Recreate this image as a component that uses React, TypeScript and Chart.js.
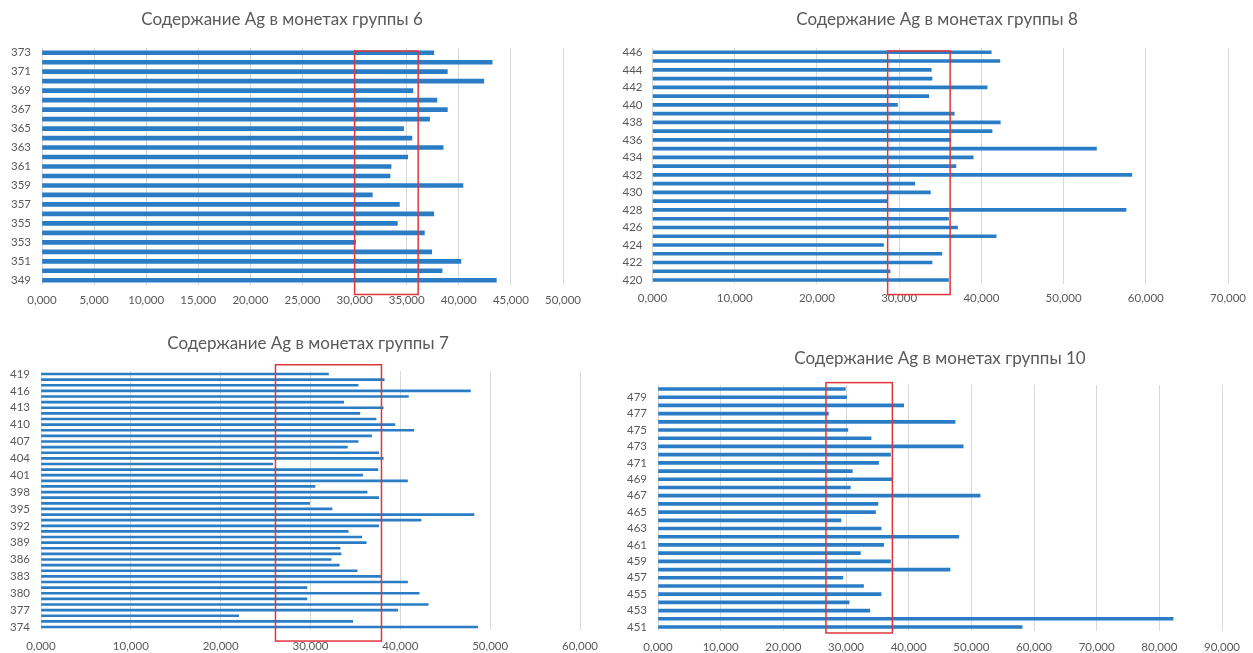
import React, { useEffect, useRef } from 'react';
import { Chart, registerables } from 'chart.js';

Chart.register(...registerables);

// ---------- DATA ----------
const group6Labels = ['349','350','351','352','353','354','355','356','357','358','359','360','361','362','363','364','365','366','367','368','369','370','371','372','373'];
const group6Values = [43.6, 38.4, 40.2, 37.4, 30.1, 36.7, 34.1, 37.6, 34.3, 31.7, 40.4, 33.4, 33.5, 35.1, 38.5, 35.5, 34.7, 37.2, 38.9, 37.9, 35.6, 42.4, 38.9, 43.2, 37.6];

const group8Labels = ['420','421','422','423','424','425','426','427','428','429','430','431','432','433','434','435','436','437','438','439','440','441','442','443','444','445','446'];
const group8Values = [36.0, 28.9, 34.0, 35.2, 28.1, 41.8, 37.1, 36.0, 57.6, 28.5, 33.8, 31.9, 58.3, 36.9, 39.0, 54.0, 36.3, 41.3, 42.3, 36.7, 29.8, 33.6, 40.7, 34.0, 33.9, 42.25, 41.2];

const group7Labels = ['374','375','376','377','378','379','380','381','382','383','384','385','386','387','388','389','390','391','392','393','394','395','396','397','398','399','400','401','402','403','404','405','406','407','408','409','410','411','412','413','414','415','416','417','418','419'];
const group7Values = [48.6, 34.7, 22.0, 39.7, 43.1, 29.6, 42.1, 29.6, 40.8, 37.8, 35.2, 33.2, 32.3, 33.4, 33.3, 36.2, 35.7, 34.2, 37.6, 42.3, 48.2, 32.4, 29.9, 37.6, 36.3, 30.5, 40.8, 35.8, 37.5, 25.8, 38.1, 37.6, 34.1, 35.3, 36.8, 41.5, 39.4, 37.3, 35.5, 38.1, 33.7, 40.9, 47.8, 35.3, 38.2, 32.0];

const group10Labels = ['451','452','453','454','455','456','457','458','459','460','461','462','463','464','465','466','467','468','469','470','471','472','473','474','475','476','477','478','479','480'];
const group10Values = [58.1, 82.2, 33.8, 30.5, 35.6, 32.8, 29.5, 46.6, 37.1, 32.3, 36.0, 48.0, 35.6, 29.2, 34.7, 35.1, 51.4, 30.7, 37.4, 31.0, 35.2, 37.1, 48.7, 34.0, 30.3, 47.4, 27.2, 39.2, 30.1, 29.9];

// red highlight ranges (value units)
const group6Range = [30.0, 36.1];
const group8Range = [28.6, 36.2];
const group7Range = [26.1, 37.9];
const group10Range = [26.8, 37.4];

const titles = [
  'Содержание Ag в монетах группы 6',
  'Содержание Ag в монетах группы 8',
  'Содержание Ag в монетах группы 7',
  'Содержание Ag в монетах группы 10',
];

// ---------- LAYOUT / STYLE ----------
const BAR_COLOR = '#2a7cc4';
const GRID_COLOR = '#d9d9d9';
const TEXT_COLOR = '#595959';
const RED = '#e0353b';
const FONT = "Lato, 'Open Sans', 'Noto Sans', sans-serif";

type PanelCfg = {
  title: string;
  labels: string[];
  values: number[];
  range: number[];
  max: number;
  step: number;
  labelStep: number;
  barThickness: number;
  rectTopOffset: number;
  rectBottomOffset: number;
  box: { left: number; top: number; width: number; height: number };
  area: { left: number; right: number; top: number; bottom: number };
  titlePos: { x: number; y: number };
  xPad: number;
  yPad: number;
};

const panels: PanelCfg[] = [
  {
    title: titles[0], labels: group6Labels, values: group6Values, range: group6Range,
    max: 50, step: 5, labelStep: 2, barThickness: 4,
    rectTopOffset: 0.18, rectBottomOffset: -1.5,
    box: { left: 0, top: 0, width: 610, height: 320 },
    area: { left: 42, right: 563, top: 48, bottom: 285 },
    titlePos: { x: 282, y: 18 }, xPad: 8, yPad: 11,
  },
  {
    title: titles[1], labels: group8Labels, values: group8Values, range: group8Range,
    max: 70, step: 10, labelStep: 2, barThickness: 3,
    rectTopOffset: 0.15, rectBottomOffset: -1.66,
    box: { left: 610, top: 0, width: 643, height: 320 },
    area: { left: 42.5, right: 619.5, top: 47.9, bottom: 284.4 },
    titlePos: { x: 937, y: 18 }, xPad: 7, yPad: 10,
  },
  {
    title: titles[2], labels: group7Labels, values: group7Values, range: group7Range,
    max: 60, step: 10, labelStep: 3, barThickness: 2,
    rectTopOffset: 1.65, rectBottomOffset: -2.5,
    box: { left: 0, top: 330, width: 610, height: 323 },
    area: { left: 41, right: 580, top: 41.2, bottom: 299.8 },
    titlePos: { x: 308, y: 342 }, xPad: 10, yPad: 11,
  },
  {
    title: titles[3], labels: group10Labels, values: group10Values, range: group10Range,
    max: 90, step: 10, labelStep: 2, barThickness: 3,
    rectTopOffset: 0.78, rectBottomOffset: -0.73,
    box: { left: 615, top: 330, width: 638, height: 323 },
    area: { left: 43, right: 607, top: 54.9, bottom: 301.1 },
    titlePos: { x: 940, y: 357 }, xPad: 9, yPad: 11,
  },
];

const rectPlugin = {
  id: 'rangeRect',
  afterDatasetsDraw(chart: any, _args: any, opts: any) {
    if (!opts || !opts.range) return;
    const xs = chart.scales.x;
    const ys = chart.scales.y;
    const n = chart.data.labels.length;
    const x0 = xs.getPixelForValue(opts.range[0]);
    const x1 = xs.getPixelForValue(opts.range[1]);
    const yTop = ys.getPixelForValue(n - 1 + opts.top);
    const yBot = ys.getPixelForValue(opts.bottom);
    const ctx = chart.ctx;
    ctx.save();
    ctx.strokeStyle = RED;
    ctx.lineWidth = 1.5;
    ctx.strokeRect(x0, Math.min(yTop, yBot), x1 - x0, Math.abs(yBot - yTop));
    ctx.restore();
  },
};

function Panel({ cfg }: { cfg: PanelCfg }) {
  const ref = useRef<HTMLCanvasElement | null>(null);
  useEffect(() => {
    if (!ref.current) return;
    const { box, area } = cfg;
    const chart = new Chart(ref.current, {
      type: 'bar',
      data: {
        labels: cfg.labels,
        datasets: [
          {
            data: cfg.values,
            backgroundColor: BAR_COLOR,
            borderWidth: 0,
            barThickness: cfg.barThickness,
          },
        ],
      },
      plugins: [rectPlugin],
      options: {
        indexAxis: 'y',
        responsive: false,
        animation: false,
        devicePixelRatio: 1,
        layout: { padding: { top: area.top, right: box.width - area.right, left: 0, bottom: 0 } },
        plugins: {
          legend: { display: false },
          title: { display: false },
          tooltip: { enabled: false },
          rangeRect: { range: cfg.range, top: cfg.rectTopOffset, bottom: cfg.rectBottomOffset },
        } as any,
        scales: {
          x: {
            type: 'linear',
            min: 0,
            max: cfg.max,
            border: { display: false },
            grid: { color: GRID_COLOR, lineWidth: 1, drawTicks: false },
            ticks: {
              stepSize: cfg.step,
              padding: cfg.xPad,
              color: TEXT_COLOR,
              font: { family: FONT, size: 11.5 },
              maxRotation: 0,
              callback: (v: any) => Number(v).toFixed(3).replace('.', ','),
            },
            afterFit: (s: any) => { s.height = box.height - area.bottom; },
          },
          y: {
            type: 'category',
            reverse: true,
            border: { display: false },
            grid: { display: false, drawTicks: false },
            ticks: {
              autoSkip: false,
              padding: cfg.yPad,
              color: TEXT_COLOR,
              font: { family: FONT, size: 11.5 },
              callback: (_v: any, idx: number) => (idx % cfg.labelStep === 0 ? cfg.labels[idx] : null),
            },
            afterFit: (s: any) => { s.width = area.left; },
          },
        },
      } as any,
    });
    return () => chart.destroy();
  }, [cfg]);
  return (
    <canvas
      ref={ref}
      width={cfg.box.width}
      height={cfg.box.height}
      style={{ position: 'absolute', left: cfg.box.left, top: cfg.box.top, width: cfg.box.width, height: cfg.box.height }}
    />
  );
}

export default function App() {
  return (
    <div style={{ position: 'fixed', left: 0, top: 0, width: 1253, height: 653, background: '#fff', overflow: 'hidden' }}>
      {panels.map((p, i) => (
        <Panel key={i} cfg={p} />
      ))}
      {panels.map((p, i) => (
        <div
          key={'t' + i}
          style={{
            position: 'absolute',
            left: p.titlePos.x,
            top: p.titlePos.y,
            transform: 'translate(-50%, -50%)',
            whiteSpace: 'nowrap',
            fontFamily: FONT,
            fontSize: 17,
            color: TEXT_COLOR,
          }}
        >
          {p.title}
        </div>
      ))}
    </div>
  );
}
